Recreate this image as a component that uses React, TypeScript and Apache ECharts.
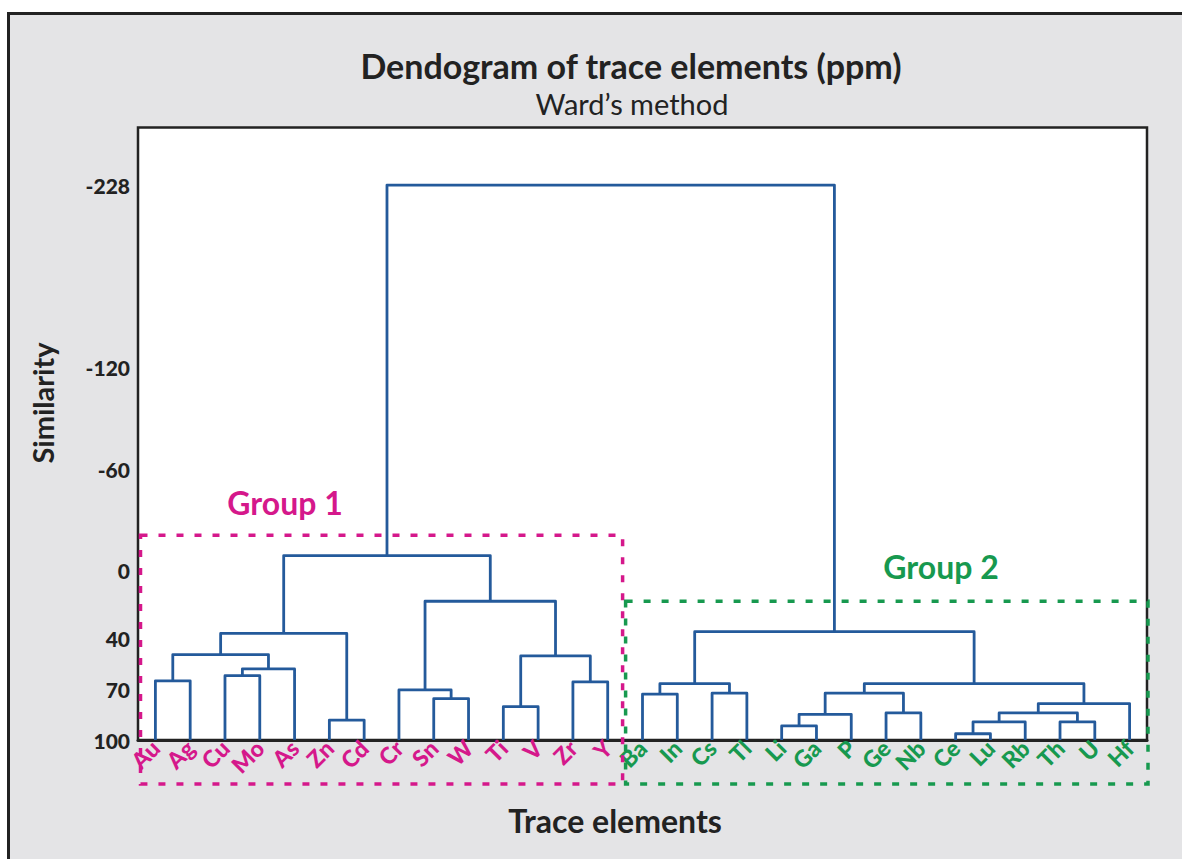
import React, { useEffect, useRef } from 'react';
import * as echarts from 'echarts';

// ---- data ----
const leaves = ['Au', 'Ag', 'Cu', 'Mo', 'As', 'Zn', 'Cd', 'Cr', 'Sn', 'W', 'Ti', 'V', 'Zr', 'Y',
  'Ba', 'In', 'Cs', 'Tl', 'Li', 'Ga', 'P', 'Ge', 'Nb', 'Ce', 'Lu', 'Rb', 'Th', 'U', 'Hf'];
const leafGroup = [1, 1, 1, 1, 1, 1, 1, 1, 1, 1, 1, 1, 1, 1,
  2, 2, 2, 2, 2, 2, 2, 2, 2, 2, 2, 2, 2, 2, 2];
// linkage: ids < 29 are leaves, id 29 + k is the k-th merge
const mergeLeft = [0, 2, 30, 29, 5, 32, 8, 7, 10, 12, 37, 36, 34, 14, 16, 42, 18, 45, 21, 46, 23, 49, 26, 50, 52, 48, 44, 41];
const mergeRight = [1, 3, 4, 31, 6, 33, 9, 35, 11, 13, 38, 39, 40, 15, 17, 43, 19, 20, 22, 47, 24, 25, 27, 51, 28, 53, 54, 55];
const mergeHeight = [65, 62, 58, 49.5, 88.2, 37, 75.5, 70.4, 80.3, 65.7, 50.3, 18, -9, 72.9, 72.3, 66.7, 91.7, 84.8, 84, 72.3, 96.3, 89.3, 89.3, 84, 78.5, 66.7, 36, -228];
const leafLevel = 100;
const yTicks = [-228, -120, -60, 0, 40, 70, 100];
const groupNames = ['Group 1', 'Group 2'];
const groupBoxTop = [-21, 18];

const MAGENTA = '#d5188b';
const GREEN = '#17994f';
const BLUE = '#245a9b';
const FONT = 'Lato, "Open Sans", sans-serif';

export default function App() {
  const ref = useRef<HTMLDivElement>(null);
  useEffect(() => {
    if (!ref.current) return;
    const chart = echarts.init(ref.current, undefined, { renderer: 'svg' });

    const pos: number[] = leaves.map((_, i) => i);
    const hgt: number[] = leaves.map(() => leafLevel);
    const segs: number[][] = [];
    mergeLeft.forEach((a, k) => {
      const b = mergeRight[k];
      const h = mergeHeight[k];
      segs.push([pos[a], hgt[a], pos[b], hgt[b], h]);
      pos.push((pos[a] + pos[b]) / 2);
      hgt.push(h);
    });

    chart.setOption({
      animation: false,
      title: [
        {
          text: 'Dendogram of trace elements (ppm)', left: 626, top: 43, textAlign: 'center',
          textStyle: { fontFamily: FONT, fontWeight: 'bold', fontSize: 34, color: '#222' },
        },
        {
          text: 'Ward\u2019s method', left: 627, top: 84, textAlign: 'center',
          textStyle: { fontFamily: FONT, fontWeight: 'normal', fontSize: 29, color: '#222' },
        },
      ],
      grid: {
        left: 138, top: 127.5, right: 35, bottom: 119, show: true,
        backgroundColor: '#ffffff', borderColor: '#222', borderWidth: 2.5,
      },
      xAxis: [
        {
          type: 'category', data: leaves, boundaryGap: true,
          axisLine: { onZero: false, lineStyle: { color: '#222', width: 3 } },
          axisTick: { show: false },
          splitLine: { show: false },
          axisLabel: {
            interval: 0, rotate: 45, margin: 4,
            fontFamily: FONT, fontWeight: 900, fontSize: 23,
            color: (_v: any, i: number) => (leafGroup[i] === 1 ? MAGENTA : GREEN),
          },
        },
        { type: 'value', min: -0.5, max: leaves.length - 0.5, show: false, axisLine: { onZero: false } },
      ],
      yAxis: {
        type: 'value', inverse: true, min: -262, max: 100,
        axisLine: { show: false }, splitLine: { show: false },
        axisTick: { show: false, customValues: yTicks },
        axisLabel: {
          customValues: yTicks, margin: 8,
          fontFamily: FONT, fontWeight: 900, fontSize: 21, color: '#222',
        },
      },
      series: [
        {
          type: 'custom', coordinateSystem: 'cartesian2d', xAxisIndex: 1, yAxisIndex: 0,
          encode: { x: [0, 2], y: [1, 3, 4] }, clip: false,
          data: segs,
          renderItem: (_p: any, api: any) => {
            const pts = [
              api.coord([api.value(0), api.value(1)]),
              api.coord([api.value(0), api.value(4)]),
              api.coord([api.value(2), api.value(4)]),
              api.coord([api.value(2), api.value(3)]),
            ];
            return {
              type: 'polyline', shape: { points: pts },
              style: { stroke: BLUE, lineWidth: 2.8, fill: 'none', lineJoin: 'round' },
            };
          },
        },
      ],
    });

    const px = (v: number) => chart.convertToPixel({ xAxisIndex: 1 }, v) as number;
    const py = (v: number) => chart.convertToPixel({ yAxisIndex: 0 }, v) as number;
    const axisY = py(leafLevel);
    const boxBottom = axisY + 44;
    const split = 13.5;
    const boxes = [
      { x1: px(-0.5) + 2.5, x2: px(split) - 2.5, color: MAGENTA, top: py(groupBoxTop[0]) },
      { x1: px(split) + 0.5, x2: px(leaves.length - 0.5) + 1, color: GREEN, top: py(groupBoxTop[1]) },
    ];
    const labelPos = [[285, 502], [941, 566]];
    const graphic: any[] = [];
    boxes.forEach((b, i) => {
      graphic.push({
        type: 'rect', z: 50,
        shape: { x: b.x1, y: b.top, width: b.x2 - b.x1, height: boxBottom - b.top },
        style: { fill: 'none', stroke: b.color, lineWidth: 3.5, lineDash: [7, 11] },
      });
      graphic.push({
        type: 'text', x: labelPos[i][0], y: labelPos[i][1], z: 50,
        style: {
          text: groupNames[i], fill: b.color, fontFamily: FONT, fontWeight: 'bold', fontSize: 32,
          align: 'center', verticalAlign: 'middle',
        },
      });
    });
    graphic.push({
      type: 'text', x: 42, y: 403, rotation: Math.PI / 2, z: 50,
      style: {
        text: 'Similarity', fill: '#222', fontFamily: FONT, fontWeight: 'bold', fontSize: 29,
        align: 'center', verticalAlign: 'middle',
      },
    });
    graphic.push({
      type: 'text', x: 615, y: 820, z: 50,
      style: {
        text: 'Trace elements', fill: '#222', fontFamily: FONT, fontWeight: 'bold', fontSize: 32,
        align: 'center', verticalAlign: 'middle',
      },
    });
    chart.setOption({ graphic });

    return () => chart.dispose();
  }, []);

  return (
    <div style={{ position: 'fixed', left: 0, top: 0, width: 1182, height: 859, background: '#fff', overflow: 'hidden' }}>
      <div style={{
        position: 'absolute', left: 7, top: 12, width: 1300, height: 1000, background: '#e4e4e6',
        borderLeft: '3px solid #222', borderTop: '3px solid #222',
      }} />
      <div ref={ref} style={{ position: 'absolute', left: 0, top: 0, width: 1182, height: 859 }} />
    </div>
  );
}
